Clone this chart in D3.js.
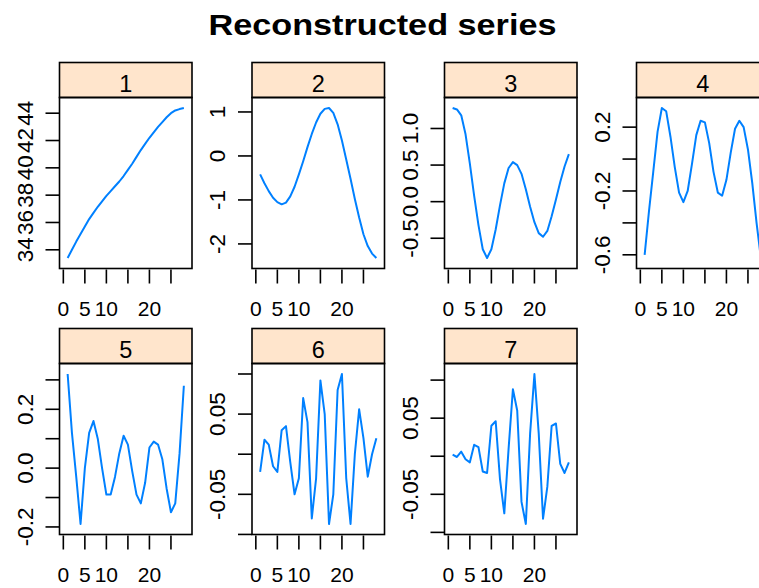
<!DOCTYPE html>
<html>
<head>
<meta charset="utf-8">
<script src="https://cdn.jsdelivr.net/npm/d3@7"></script>
<style>
  body { margin: 0; background: #fff; }
  svg { display: block; }
  text { font-family: "Liberation Sans", Arial, Helvetica, sans-serif; fill: #000; }
</style>
</head>
<body>
<svg id="chart" width="759" height="588"></svg>
<script>
// Time index shared by every reconstructed component
const timeIndex = d3.range(1, 29);

// Reconstructed components (one array per elementary grouping)
const comp1 = [33.40, 34.00, 34.60, 35.15, 35.70, 36.25, 36.70, 37.15, 37.55, 37.95,
               38.30, 38.65, 39.00, 39.40, 39.85, 40.30, 40.80, 41.30, 41.75, 42.20,
               42.60, 43.00, 43.35, 43.70, 44.00, 44.20, 44.30, 44.38];
const comp2 = [-0.42, -0.62, -0.80, -0.95, -1.05, -1.10, -1.06, -0.92, -0.70, -0.42,
               -0.12, 0.20, 0.50, 0.76, 0.96, 1.07, 1.09, 0.98, 0.72, 0.35,
               -0.08, -0.52, -0.98, -1.40, -1.78, -2.05, -2.22, -2.32];
const comp3 = [1.28, 1.26, 1.18, 0.92, 0.52, 0.08, -0.32, -0.65, -0.77, -0.65,
               -0.38, -0.05, 0.25, 0.46, 0.54, 0.50, 0.38, 0.17, -0.07, -0.28,
               -0.43, -0.48, -0.40, -0.20, 0.03, 0.27, 0.48, 0.65];
const comp4 = [-0.60, -0.33, -0.08, 0.17, 0.32, 0.30, 0.14, -0.05, -0.21, -0.27,
               -0.20, -0.03, 0.15, 0.24, 0.23, 0.10, -0.08, -0.21, -0.23, -0.13,
               0.04, 0.19, 0.24, 0.20, 0.06, -0.15, -0.40, -0.62];
const comp5 = [0.32, 0.12, -0.03, -0.19, 0.00, 0.12, 0.16, 0.10, 0.00, -0.09,
               -0.09, -0.03, 0.05, 0.11, 0.08, -0.01, -0.09, -0.12, -0.05, 0.07,
               0.09, 0.08, 0.03, -0.07, -0.15, -0.12, 0.05, 0.28];
const comp6 = [-0.022, 0.018, 0.012, -0.015, -0.022, 0.030, 0.035, -0.010, -0.050, -0.030,
               0.070, 0.040, -0.080, -0.030, 0.092, 0.050, -0.087, -0.050, 0.080, 0.100,
               -0.030, -0.087, 0.000, 0.056, 0.020, -0.028, 0.000, 0.020];
const comp7 = [0.002, -0.001, 0.006, -0.004, -0.008, 0.015, 0.012, -0.020, -0.022, 0.040,
               0.046, -0.030, -0.075, 0.010, 0.088, 0.060, -0.060, -0.089, 0.030, 0.108,
               0.030, -0.082, -0.040, 0.040, 0.043, -0.010, -0.022, -0.008];

const panelNames = ["1", "2", "3", "4", "5", "6", "7"];

// Axis ticks; an empty label means the tick is drawn without text
const xTicks = [0, 5, 10, 15, 20, 25];
const xTickLabels = ["0", "5", "10", "", "20", ""];

const yTicks1 = [34, 36, 38, 40, 42, 44];
const yLabels1 = ["34", "36", "38", "40", "42", "44"];
const yTicks2 = [-2, -1, 0, 1];
const yLabels2 = ["-2", "-1", "0", "1"];
const yTicks3 = [-0.5, 0, 0.5, 1];
const yLabels3 = ["-0.5", "0.0", "0.5", "1.0"];
const yTicks4 = [-0.6, -0.4, -0.2, 0, 0.2];
const yLabels4 = ["-0.6", "", "-0.2", "", "0.2"];
const yTicks5 = [-0.2, -0.1, 0, 0.1, 0.2, 0.3];
const yLabels5 = ["-0.2", "", "0.0", "", "0.2", ""];
const yTicks6 = [-0.10, -0.05, 0, 0.05, 0.10];
const yLabels6 = ["", "-0.05", "", "0.05", ""];
const yTicks7 = [-0.10, -0.05, 0, 0.05, 0.10];
const yLabels7 = ["", "-0.05", "", "0.05", ""];

const chartTitle = "Reconstructed series";

// ---- layout ----
const components = [comp1, comp2, comp3, comp4, comp5, comp6, comp7];
const yTickSets = [yTicks1, yTicks2, yTicks3, yTicks4, yTicks5, yTicks6, yTicks7];
const yLabelSets = [yLabels1, yLabels2, yLabels3, yLabels4, yLabels5, yLabels6, yLabels7];

const colLeft = [59.5, 252, 444.5, 636.5];
const rowTop = [62.5, 328.5];
const panelW = 132.5, stripH = 35, plotH = 171;
const tickLen = 14;
const padFrac = 0.07;
const lineColor = "#0080ff";
const stripColor = "#ffe5cc";
const xTickFont = 21;
const yTickFont = 22.5;

const svg = d3.select("#chart");

svg.append("text")
  .attr("x", 382.5).attr("y", 35)
  .attr("text-anchor", "middle")
  .attr("font-weight", "bold")
  .attr("font-size", 30)
  .attr("textLength", 348)
  .attr("lengthAdjust", "spacingAndGlyphs")
  .text(chartTitle);

function padded(ext) {
  const r = ext[1] - ext[0];
  return [ext[0] - r * padFrac, ext[1] + r * padFrac];
}

const x = d3.scaleLinear()
  .domain(padded(d3.extent(timeIndex)))
  .range([0, panelW]);

components.forEach((vals, i) => {
  const col = i % 4, row = Math.floor(i / 4);
  const g = svg.append("g")
    .attr("transform", `translate(${colLeft[col]},${rowTop[row]})`);

  // strip
  g.append("rect")
    .attr("x", 0).attr("y", 0)
    .attr("width", panelW).attr("height", stripH)
    .attr("fill", stripColor).attr("stroke", "#000").attr("stroke-width", 1.6);
  g.append("text")
    .attr("x", panelW / 2).attr("y", 29.5)
    .attr("text-anchor", "middle")
    .attr("font-size", 23.5)
    .text(panelNames[i]);

  const plot = g.append("g").attr("transform", `translate(0,${stripH})`);
  const y = d3.scaleLinear()
    .domain(padded(d3.extent(vals)))
    .range([plotH, 0]);

  const clipId = "clip" + i;
  plot.append("clipPath").attr("id", clipId)
    .append("rect").attr("width", panelW).attr("height", plotH);

  plot.append("path")
    .datum(timeIndex.map((t, k) => [t, vals[k]]))
    .attr("clip-path", `url(#${clipId})`)
    .attr("fill", "none")
    .attr("stroke", lineColor)
    .attr("stroke-width", 2)
    .attr("stroke-linejoin", "round")
    .attr("d", d3.line().x(d => x(d[0])).y(d => y(d[1])));

  plot.append("rect")
    .attr("width", panelW).attr("height", plotH)
    .attr("fill", "none").attr("stroke", "#000").attr("stroke-width", 1.6);

  // x axis
  const xa = plot.append("g").attr("transform", `translate(0,${plotH})`);
  xTicks.forEach((t, k) => {
    xa.append("line")
      .attr("x1", x(t)).attr("x2", x(t))
      .attr("y1", 1).attr("y2", 1 + tickLen)
      .attr("stroke", "#000").attr("stroke-width", 1.6);
    if (xTickLabels[k]) {
      xa.append("text")
        .attr("x", x(t)).attr("y", 47.5)
        .attr("text-anchor", "middle")
        .attr("font-size", xTickFont)
        .text(xTickLabels[k]);
    }
  });

  // y axis
  const ya = plot.append("g");
  yTickSets[i].forEach((t, k) => {
    ya.append("line")
      .attr("x1", -tickLen).attr("x2", 0)
      .attr("y1", y(t)).attr("y2", y(t))
      .attr("stroke", "#000").attr("stroke-width", 1.6);
    const lab = yLabelSets[i][k];
    if (lab) {
      ya.append("text")
        .attr("transform", `translate(${-27},${y(t)}) rotate(-90)`)
        .attr("text-anchor", "middle")
        .attr("font-size", yTickFont)
        .text(lab);
    }
  });
});
</script>
</body>
</html>
